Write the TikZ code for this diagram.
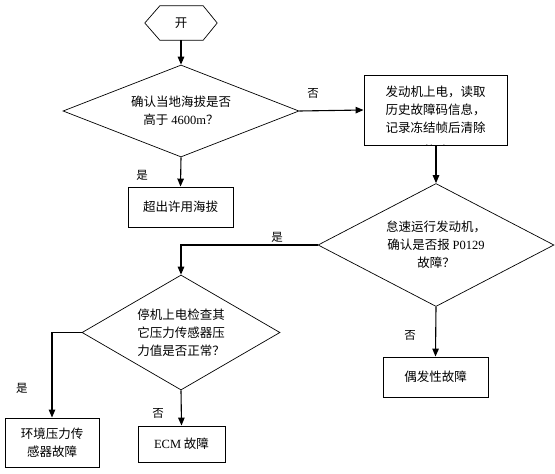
\documentclass[tikz,border=0pt]{standalone}
\usepackage{fontspec}
\setmainfont{Noto Sans CJK SC}
\newfontfamily\latf{Liberation Serif}
\usetikzlibrary{shapes.geometric,arrows.meta}
\newcommand{\lt}[1]{{\latf #1}}
\begin{document}
\begin{tikzpicture}[x=1pt,y=-1pt,
  txt/.style={font=\fontsize{12.5}{18}\selectfont, align=center},
  lbl/.style={font=\fontsize{11.5}{14}\selectfont, inner sep=0pt},
  box/.style={draw, line width=0.9pt, txt, inner sep=0pt},
  dia/.style={draw, line width=0.7pt, shape=diamond, inner sep=0pt, txt},
  conn/.style={line width=1.1pt},
  arr/.style={conn, -{Triangle[length=8pt,width=6.5pt]}}]
\useasboundingbox (0,0) rectangle (555,474);
% start hexagon
\node[txt, minimum width=72pt, minimum height=34pt, inner sep=0pt] (start) at (181,23) {开};
\draw[line width=0.7pt] (start.west) -- ([xshift=15pt]start.north west) -- ([xshift=-14pt]start.north east)
  -- (start.east) -- ([xshift=-14pt]start.south east) -- ([xshift=15pt]start.south west) -- cycle;
% decision 1
\node[dia, minimum width=236pt, minimum height=92pt, aspect=2.5] (d1) at (181,111) {确认当地海拔是否\\高于 \lt{4600m}？};
% box right
\node[box, minimum width=143pt, minimum height=70pt] (b2) at (435.5,110) {};
\node[txt, anchor=center] (b2t) at (435.5,109.5) {发动机上电，读取\\历史故障码信息，\\记录冻结帧后清除};
\begin{scope}
\clip (b2.south west) rectangle (b2.north east);
\node[txt, inner sep=0pt] (b2c) at (436,151) {故障};
\end{scope}
% box altitude
\node[box, minimum width=105pt, minimum height=40pt] (b1) at (180.5,207) {超出许用海拔};
% decision 2
\node[dia, minimum width=236pt, minimum height=123pt, aspect=2] (d2) at (436,245) {怠速运行发动机，\\确认是否报 \lt{P0129}\\故障？};
% box occasional
\node[box, minimum width=105pt, minimum height=40pt] (b3) at (435.5,377) {偶发性故障};
% decision 3
\node[dia, minimum width=198pt, minimum height=115pt, aspect=1.7] (d3) at (181,332.5) {停机上电检查其\\它压力传感器压\\力值是否正常？};
% box env sensor
\node[box, minimum width=94pt, minimum height=49pt] (b4) at (52,442.5) {环境压力传\\感器故障};
% box ECM
\node[box, minimum width=87pt, minimum height=36pt] (b5) at (181.5,444) {\lt{ECM} 故障};
% connectors
\draw[arr] (start.south) -- (d1.north);
\draw[arr] (d1.east) -- (b2.west);
\draw[arr] (d1.south) -- (b1.north);
\draw[arr] (b2.south -| d2.north) -- (d2.north);
\draw[arr] (d2.south) -- (b3.north);
\coordinate (c1) at (d3.north |- d2.west);
\draw[arr] (d2.west) -- (c1) -- (d3.north);
\coordinate (c2) at (b4.north |- d3.west);
\draw[arr] (d3.west) -- (c2) -- (b4.north);
\draw[arr] (d3.south) -- (b5.north);
% labels
\node[lbl] (l1) at (313,93) {否};
\node[lbl] (l2) at (142,175) {是};
\node[lbl] (l3) at (277,237) {是};
\node[lbl] (l4) at (410,335) {否};
\node[lbl] (l5) at (22,388) {是};
\node[lbl] (l6) at (158,413) {否};
\end{tikzpicture}
\end{document}
